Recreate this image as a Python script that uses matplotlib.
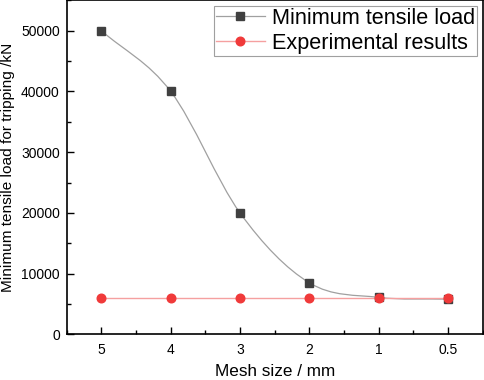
import numpy as np
import matplotlib
matplotlib.use('Agg')
import matplotlib.pyplot as plt
from matplotlib.path import Path
from matplotlib.patches import PathPatch
from matplotlib.ticker import MultipleLocator

plt.rcParams['font.family'] = ['Liberation Sans', 'DejaVu Sans']

# data
mesh_labels = ['5', '4', '3', '2', '1', '0.5']
min_tensile = [50000, 40000, 20000, 8500, 6100, 5800]
experimental = [6000, 6000, 6000, 6000, 6000, 6000]

x = np.arange(len(mesh_labels))


def smooth_path(xs, ys):
    # Catmull-Rom style bezier through the points
    pts = np.column_stack([xs, ys]).astype(float)
    n = len(pts)
    tang = np.zeros_like(pts)
    tang[0] = pts[1] - pts[0]
    tang[-1] = pts[-1] - pts[-2]
    for i in range(1, n - 1):
        tang[i] = (pts[i + 1] - pts[i - 1]) / 2
    verts = [pts[0]]
    codes = [Path.MOVETO]
    for i in range(n - 1):
        verts += [pts[i] + tang[i] / 3, pts[i + 1] - tang[i + 1] / 3, pts[i + 1]]
        codes += [Path.CURVE4] * 3
    return Path(verts, codes)


fig = plt.figure(figsize=(4.84, 3.8), dpi=100)
ax = fig.add_axes([0.138, 0.12, 0.859, 0.879])

# smooth grey curve
ax.add_patch(PathPatch(smooth_path(x, min_tensile), fill=False,
                       edgecolor='#a0a0a0', lw=0.9, zorder=2))
ax.plot(x, experimental, color='#f5a0a0', lw=1.0, zorder=2)

ax.plot(x, min_tensile, ls='none', marker='s', ms=5.2, color='#404040', zorder=3)
ax.plot(x, experimental, ls='none', marker='o', ms=6.2, color='#f03a3a', zorder=4)

# legend proxies
h1, = ax.plot([], [], color='#a0a0a0', lw=0.9, marker='s', ms=5.2,
              mfc='#404040', mec='#404040')
h2, = ax.plot([], [], color='#f5a0a0', lw=1.0, marker='o', ms=6.2,
              mfc='#f03a3a', mec='#f03a3a')
leg = ax.legend([h1, h2], ['Minimum tensile load', 'Experimental results'],
                loc='upper right', fontsize=15.6, frameon=True, fancybox=False,
                edgecolor='#888888', borderpad=0.08, labelspacing=0.2,
                handlelength=2.3, handletextpad=0.32, borderaxespad=0.25)
leg.get_frame().set_linewidth(0.8)

ax.set_xlim(-0.5, 5.5)
ax.set_ylim(0, 55000)
ax.set_xticks(x)
ax.set_xticklabels(mesh_labels)
ax.xaxis.set_minor_locator(MultipleLocator(0.5))
ax.yaxis.set_major_locator(MultipleLocator(10000))
ax.yaxis.set_minor_locator(MultipleLocator(5000))
ax.tick_params(which='major', direction='in', length=5, width=1, labelsize=10)
ax.tick_params(axis='x', which='major', pad=6)
ax.tick_params(axis='y', which='major', pad=5)
ax.tick_params(which='minor', direction='in', length=3, width=1)
for s in ax.spines.values():
    s.set_linewidth(1.2)

ax.set_xlabel('Mesh size / mm', fontsize=12.3, labelpad=5)
ax.set_ylabel('Minimum tensile load for tripping /kN', fontsize=11.1, labelpad=4)

fig.savefig('out.png', dpi=100)
